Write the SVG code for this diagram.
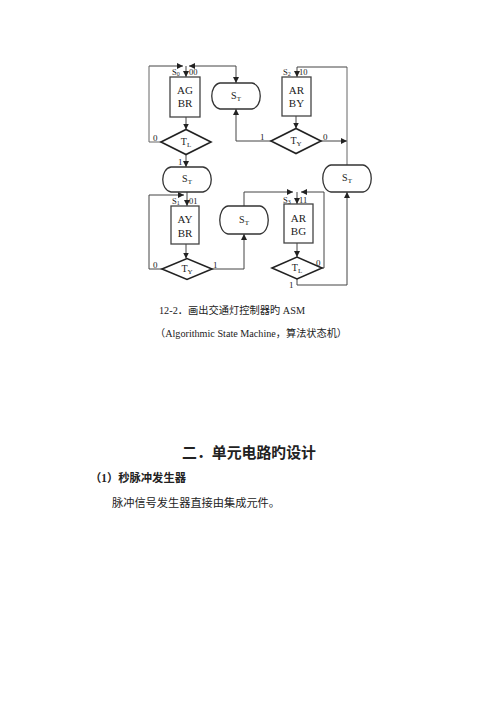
<svg xmlns="http://www.w3.org/2000/svg" width="500" height="707" viewBox="0 0 500 707">
<defs>
<marker id="ah" viewBox="0 0 10 10" refX="10" refY="5" markerWidth="6" markerHeight="6" markerUnits="userSpaceOnUse" orient="auto"><path d="M0,0 L10,5 L0,10 z" fill="#222"/></marker>
<style>
.box{fill:#fff;stroke:#444;stroke-width:1.3}
.dia{fill:#fff;stroke:#222;stroke-width:1.6}
.st{fill:#fff;stroke:#333;stroke-width:1.3}
.ln{fill:none;stroke:#666;stroke-width:1}
.ar{fill:none;stroke:#444;stroke-width:1;marker-end:url(#ah)}
.t{font-family:"Liberation Serif","Times New Roman",serif;fill:#222}
.n{font-size:11px;text-anchor:middle}
.s{font-size:10px;text-anchor:middle}
.lb{font-size:8.5px}
.br{font-size:9px}
.cj{font-family:"Liberation Serif","Noto Sans CJK SC",serif;fill:#222}
</style>
</defs>
<rect width="500" height="707" fill="#fff"/>
<g id="connectors">
<path class="ar" d="M149,66 H183"/>
<path class="ln" d="M161,142 H149 V66"/>
<path class="ar" d="M236,66 H189"/>
<path class="ar" d="M236,66 V83"/>
<path class="ar" d="M186,66 V77"/>
<path class="ar" d="M186,117 V129.5"/>
<path class="ar" d="M186,154.5 V167"/>
<path class="ar" d="M296,116 V128.5"/>
<path class="ar" d="M271,141 H236 V109"/>
<path class="ar" d="M321,141 H347"/>
<path class="ln" d="M347,67 V165"/>
<path class="ar" d="M347,67 H297 V77"/>
<path class="ar" d="M187,192 V206"/>
<path class="ar" d="M162,269 H149 V195 H184"/>
<path class="ar" d="M186,244 V258.5"/>
<path class="ar" d="M212,269 H244 V234"/>
<path class="ar" d="M244,206 V192 H293"/>
<path class="ar" d="M322,268 H324 V192 H301"/>
<path class="ar" d="M297,192 V204"/>
<path class="ar" d="M297,243 V257"/>
<path class="ar" d="M297,279 V285 H347 V192"/>
<g class="t br">
<text x="153" y="141">0</text>
<text x="178" y="165">1</text>
<text x="260" y="140">1</text>
<text x="323" y="140">0</text>
<text x="153" y="268">0</text>
<text x="213" y="268">1</text>
<text x="316" y="266">0</text>
<text x="289" y="288">1</text>
</g>
</g>
<g id="S0">
<rect class="box" x="170" y="77" width="30" height="40"/>
<text class="t n" x="185" y="94">AG</text>
<text class="t n" x="185" y="107">BR</text>
<text class="t lb" x="172" y="75">S<tspan font-size="6" dy="1">0</tspan></text>
<text class="t lb" x="189" y="75">00</text>
</g>
<g id="S2">
<rect class="box" x="282" y="77" width="29" height="39"/>
<text class="t n" x="296.5" y="94">AR</text>
<text class="t n" x="296.5" y="107">BY</text>
<text class="t lb" x="283" y="75">S<tspan font-size="6" dy="1">2</tspan></text>
<text class="t lb" x="299" y="75">10</text>
</g>
<g id="S1">
<rect class="box" x="171" y="206" width="28" height="38"/>
<text class="t n" x="185" y="223">AY</text>
<text class="t n" x="185" y="237">BR</text>
<text class="t lb" x="172" y="204">S<tspan font-size="6" dy="1">1</tspan></text>
<text class="t lb" x="189" y="204">01</text>
</g>
<g id="S3">
<rect class="box" x="284" y="204" width="29" height="39"/>
<text class="t n" x="298.5" y="222">AR</text>
<text class="t n" x="298.5" y="235">BG</text>
<text class="t lb" x="283" y="203">S<tspan font-size="6" dy="1">3</tspan></text>
<text class="t lb" x="299" y="203">11</text>
</g>
<g id="ST_top">
<path class="st" d="M220,83 H252 C263,85 263,107 252,109 H220 C209,107 209,85 220,83 Z"/>
<text class="t s" x="236" y="99">S<tspan font-size="7" dy="2">T</tspan></text>
</g>
<g id="ST_left">
<path class="st" d="M171,167 H203 C214,169 214,190 203,192 H171 C160,190 160,169 171,167 Z"/>
<text class="t s" x="187" y="182">S<tspan font-size="7" dy="2">T</tspan></text>
</g>
<g id="ST_mid">
<path class="st" d="M228,206 H260 C271,208 271,232 260,234 H228 C217,232 217,208 228,206 Z"/>
<text class="t s" x="244" y="223">S<tspan font-size="7" dy="2">T</tspan></text>
</g>
<g id="ST_right">
<path class="st" d="M331,165 H363 C374,167 374,190 363,192 H331 C320,190 320,167 331,165 Z"/>
<text class="t s" x="347" y="181">S<tspan font-size="7" dy="2">T</tspan></text>
</g>
<g id="TL_top">
<polygon class="dia" points="161,142 186,129.5 211,142 186,154.5"/>
<text class="t s" x="186" y="145">T<tspan font-size="7" dy="2">L</tspan></text>
</g>
<g id="TY_top">
<polygon class="dia" points="271,141 296,128.5 321,141 296,153.5"/>
<text class="t s" x="296" y="144">T<tspan font-size="7" dy="2">Y</tspan></text>
</g>
<g id="TY_bottom">
<polygon class="dia" points="162,269 187,258.5 212,269 187,279.5"/>
<text class="t s" x="187" y="272">T<tspan font-size="7" dy="2">Y</tspan></text>
</g>
<g id="TL_bottom">
<polygon class="dia" points="272,268 297,257 322,268 297,279"/>
<text class="t s" x="297" y="271">T<tspan font-size="7" dy="2">L</tspan></text>
</g>
<g id="captions">
<text class="cj" x="159" y="314" font-size="10.5" textLength="146" lengthAdjust="spacingAndGlyphs">12-2．画出交通灯控制器旳 ASM</text>
<text class="cj" x="155" y="337" font-size="10" textLength="192" lengthAdjust="spacingAndGlyphs">（Algorithmic State Machine，算法状态机）</text>
<text class="cj" x="182" y="458" font-size="15" font-weight="bold" textLength="134" lengthAdjust="spacingAndGlyphs">二．单元电路旳设计</text>
<text class="cj" x="90" y="482" font-size="11.5" font-weight="bold" textLength="96" lengthAdjust="spacingAndGlyphs">（1）秒脉冲发生器</text>
<text class="cj" x="112" y="507" font-size="11" textLength="168" lengthAdjust="spacingAndGlyphs">脉冲信号发生器直接由集成元件。</text>
</g>
</svg>
